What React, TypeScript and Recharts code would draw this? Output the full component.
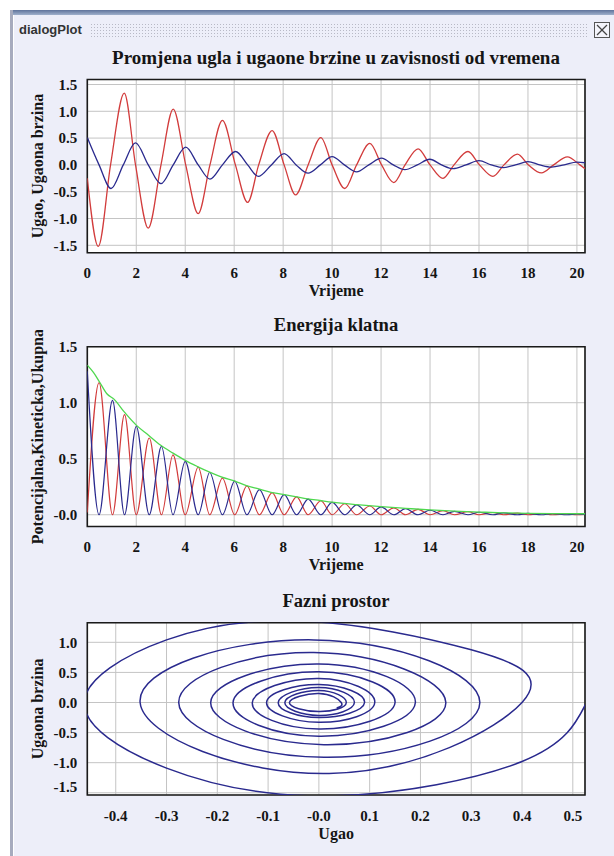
import React from 'react';
import { LineChart, Line, XAxis, YAxis, CartesianGrid, ReferenceArea } from 'recharts';

// ---------- data ----------
// Top chart: angle (blue) and angular velocity (red) vs time
const angleTimes = [0, 0.48, 0.97, 1.47, 1.97, 2.49, 3.01, 3.51, 4.02, 4.53, 5.01, 5.52, 6.06, 6.55, 6.98, 7.52, 8.04, 8.53, 9.02, 9.52, 10.0, 10.5, 11.0, 11.5, 12.02, 12.5, 12.97, 13.48, 13.99, 14.47, 14.94, 15.47, 16.0, 16.5, 16.98, 17.49, 18.0, 18.48, 18.96, 19.48, 20.0, 20.33];
const angleValues = [0.51, 0, -0.44, 0, 0.41, 0, -0.35, 0, 0.33, 0, -0.265, 0, 0.25, 0, -0.215, 0, 0.21, 0, -0.155, 0, 0.155, 0, -0.13, 0, 0.125, 0, -0.09, 0, 0.105, 0, -0.07, 0, 0.08, 0, -0.05, 0, 0.06, 0, -0.04, 0, 0.05, 0.04];

const velocityTimes = [0, 0.45, 0.95, 1.51, 1.97, 2.49, 3.01, 3.51, 4.02, 4.53, 5.01, 5.52, 6.05, 6.55, 7.0, 7.55, 8.04, 8.51, 9.02, 9.54, 10.0, 10.52, 11.0, 11.54, 12.02, 12.52, 12.98, 13.51, 14.0, 14.53, 14.98, 15.55, 16.02, 16.57, 17.02, 17.57, 18.02, 18.55, 19.05, 19.61, 20.12, 20.33];
const velocityValues = [-0.25, -1.52, 0, 1.34, 0, -1.18, 0, 1.04, 0, -0.91, 0, 0.83, 0, -0.7, 0, 0.64, 0, -0.56, 0, 0.51, 0, -0.44, 0, 0.4, 0, -0.33, 0, 0.3, 0, -0.25, 0, 0.25, 0, -0.215, 0, 0.2, 0, -0.15, 0, 0.15, 0, -0.07];

// Middle chart: potential (blue), kinetic (red), total (green) energy
const energyTimes = [0, 0.48, 1.03, 1.52, 2.0, 2.53, 3.03, 3.5, 4.0, 4.53, 5.0, 5.52, 6.02, 6.52, 7.03, 7.55, 8.04, 8.55, 9.02, 9.54, 10.0, 10.52, 11.0, 11.54, 12.0, 12.52, 13.0, 13.51, 14.0, 14.53, 15.0, 15.55, 16.0, 16.57, 17.0, 17.57, 18.0, 18.55, 19.0, 19.6, 20.0, 20.33];
const potentialValues = [1.28, 0, 1.02, 0, 0.79, 0, 0.61, 0, 0.476, 0, 0.377, 0, 0.3, 0, 0.225, 0, 0.18, 0, 0.14, 0, 0.11, 0, 0.088, 0, 0.07, 0, 0.055, 0, 0.04, 0, 0.03, 0, 0.022, 0, 0.016, 0, 0.012, 0, 0.009, 0, 0.008, 0.003];
const kineticValues = [0.02, 1.18, 0, 0.894, 0, 0.685, 0, 0.535, 0, 0.425, 0, 0.326, 0, 0.257, 0, 0.197, 0, 0.16, 0, 0.125, 0, 0.098, 0, 0.078, 0, 0.062, 0, 0.048, 0, 0.036, 0, 0.027, 0, 0.02, 0, 0.014, 0, 0.011, 0, 0.008, 0, 0.003];

const totalTimes = [0, 0.25, 0.5, 0.8, 1.1, 1.5, 2.0, 2.5, 3.0, 3.5, 4.0, 4.5, 5.0, 5.5, 6.0, 6.5, 7.0, 7.5, 8.0, 8.5, 9.0, 9.5, 10, 11, 12, 13, 14, 15, 16, 17, 18, 19, 20.33];
const totalValues = [1.335, 1.27, 1.185, 1.08, 1.03, 0.92, 0.8, 0.71, 0.62, 0.55, 0.485, 0.43, 0.38, 0.335, 0.302, 0.26, 0.23, 0.2, 0.182, 0.162, 0.142, 0.127, 0.112, 0.09, 0.072, 0.057, 0.043, 0.032, 0.024, 0.017, 0.012, 0.01, 0.009];

// Bottom chart: phase space (angle, angular velocity)
const phaseAngle = [0.527, 0.4, 0.03, -0.3, -0.462, -0.3, -0.02, 0.3, 0.4, 0.02, -0.352, -0.01, 0.317, 0.01, -0.276, -0.01, 0.25, 0.01, -0.213, 0, 0.19, 0, -0.169, 0, 0.15, 0, -0.131, 0, 0.11, 0, -0.103, 0, 0.09, 0, -0.08, 0, 0.07, 0, -0.067, 0, 0.054, 0, -0.058, 0, 0.044, 0.035];
const phaseVelocity = [0, -0.98, -1.55, -1.09, 0, 1.04, 1.35, 0.875, 0, -1.18, 0, 1.04, 0, -0.91, 0, 0.83, 0, -0.7, 0, 0.64, 0, -0.56, 0, 0.51, 0, -0.44, 0, 0.4, 0, -0.33, 0, 0.3, 0, -0.25, 0, 0.25, 0, -0.215, 0, 0.2, 0, -0.15, 0, 0.15, 0, -0.09];

// Ticks
const timeTicks = [0, 2, 4, 6, 8, 10, 12, 14, 16, 18, 20];
const timeTickLabels = ['0', '2', '4', '6', '8', '10', '12', '14', '16', '18', '20'];
const topYTicks = [-1.5, -1.0, -0.5, 0, 0.5, 1.0, 1.5];
const topYTickLabels = ['-1.5', '-1.0', '-0.5', '0.0', '0.5', '1.0', '1.5'];
const energyYTicks = [0, 0.5, 1.0, 1.5];
const energyYTickLabels = ['-0.0', '0.5', '1.0', '1.5'];
const phaseXTicks = [-0.4, -0.3, -0.2, -0.1, 0, 0.1, 0.2, 0.3, 0.4, 0.5];
const phaseXTickLabels = ['-0.4', '-0.3', '-0.2', '-0.1', '-0.0', '0.1', '0.2', '0.3', '0.4', '0.5'];
const phaseYTicks = [-1.5, -1.0, -0.5, 0, 0.5, 1.0];
const phaseYTickLabels = ['-1.5', '-1.0', '-0.5', '0.0', '0.5', '1.0'];

const zipT = (ts: number[], vs: number[]) => ts.map((t, i) => ({ t, v: vs[i] }));
const angleData = zipT(angleTimes, angleValues);
const velocityData = zipT(velocityTimes, velocityValues);
const potentialData = zipT(energyTimes, potentialValues);
const kineticData = zipT(energyTimes, kineticValues);
const totalData = zipT(totalTimes, totalValues);
const phaseData = phaseAngle.map((x, i) => ({ x, y: phaseVelocity[i] }));

// ---------- styling ----------
const SERIF = '"Liberation Serif", "Times New Roman", Times, serif';
const SANS = '"Liberation Sans", Arial, sans-serif';
const INK = '#151515';
const labelStyle = { fontFamily: SERIF, fontSize: 16, fontWeight: 700, fill: INK };
const BLUE = '#2a2a8e';
const RED = '#d23c3c';
const GREEN = '#4fd84f';

const fmt = (ticks: number[], labels: string[]) => (v: number) => {
  const i = ticks.indexOf(v);
  return i >= 0 ? labels[i] : String(v);
};

const makeXTick = (ticks: number[], labels: string[]) => (props: any) => (
  <text
    x={props.x}
    y={props.y}
    dy="0.71em"
    textAnchor="middle"
    style={{ fontFamily: SERIF, fontSize: 15, fontWeight: 700, fill: INK }}
  >
    {fmt(ticks, labels)(props.payload.value)}
  </text>
);

const makeYTick = (ticks: number[], labels: string[], shiftValue?: number, shift?: number) => (props: any) => {
  const v = props.payload.value;
  const dy = shiftValue !== undefined && v === shiftValue ? shift || 0 : 0;
  return (
    <text
      x={props.x}
      y={props.y + dy}
      dy="0.355em"
      textAnchor="end"
      style={{ fontFamily: SERIF, fontSize: 15, fontWeight: 700, fill: INK }}
    >
      {fmt(ticks, labels)(v)}
    </text>
  );
};

type PanelProps = {
  top: number;
  height: number;
  marginTop: number;
  marginBottom: number;
  xKey: string;
  xDomain: [number, number];
  yDomain: [number, number];
  xTicks: number[];
  xTickLabels: string[];
  yTicks: number[];
  yTickLabels: string[];
  xLabel: string;
  yLabel: string;
  yTick: any;
  children: React.ReactNode;
};

function Panel(p: PanelProps) {
  return (
    <div style={{ position: 'absolute', left: 0, top: p.top }}>
      <LineChart
        width={614}
        height={p.height}
        margin={{ top: p.marginTop, right: 29, bottom: p.marginBottom, left: 0 }}
      >
        <CartesianGrid stroke="#c4c4c4" strokeWidth={1} fill="#ffffff" fillOpacity={1} />
        <XAxis
          type="number"
          dataKey={p.xKey}
          domain={p.xDomain}
          ticks={p.xTicks}
          interval={0}
          allowDataOverflow
          axisLine={false}
          tickLine={false}
          tickSize={6}
          tickMargin={9}
          height={50}
          tick={makeXTick(p.xTicks, p.xTickLabels)}
          label={{ value: p.xLabel, position: 'insideBottom', offset: 6.5, style: labelStyle }}
        />
        <YAxis
          type="number"
          domain={p.yDomain}
          ticks={p.yTicks}
          interval={0}
          allowDataOverflow
          axisLine={false}
          tickLine={false}
          tickSize={6}
          tickMargin={4}
          width={87.3}
          tick={p.yTick}
          label={{
            value: p.yLabel,
            angle: -90,
            position: 'insideLeft',
            offset: 37,
            style: { ...labelStyle, textAnchor: 'middle' },
          }}
        />
        {p.children}
        <ReferenceArea
          x1={p.xDomain[0]}
          x2={p.xDomain[1]}
          y1={p.yDomain[0]}
          y2={p.yDomain[1]}
          fill="none"
          stroke="#1a1a1a"
          strokeWidth={1.6}
          ifOverflow="visible"
        />
      </LineChart>
    </div>
  );
}

export default function App() {
  return (
    <div style={{ position: 'absolute', left: 0, top: 0, width: 614, height: 856, background: '#ffffff', overflow: 'hidden' }}>
      {/* window frame */}
      <div style={{ position: 'absolute', left: 10, top: 10, width: 604, height: 846, background: '#edeef9' }} />
      <div style={{ position: 'absolute', left: 10, top: 10, width: 604, height: 5, background: 'linear-gradient(#5f739b, #9fb0cc)' }} />
      <div style={{ position: 'absolute', left: 10, top: 10, width: 3, height: 846, background: '#a7abbe' }} />
      <div style={{ position: 'absolute', left: 13, top: 15, width: 1, height: 841, background: '#ffffff' }} />
      <div
        style={{
          position: 'absolute', left: 19, top: 22, fontFamily: SANS, fontWeight: 700, fontSize: 13,
          color: '#333333', lineHeight: '16px',
        }}
      >
        dialogPlot
      </div>
      <div
        style={{
          position: 'absolute', left: 90, top: 23, width: 498, height: 15,
          backgroundImage: 'radial-gradient(#b8b9c6 0.7px, transparent 0.9px)', backgroundSize: '3px 3px',
        }}
      />
      <svg style={{ position: 'absolute', left: 594, top: 22 }} width={16} height={16}>
        <rect x={0.5} y={0.5} width={15} height={15} fill="#f4f4fb" stroke="#555" />
        <line x1={3} y1={3} x2={13} y2={13} stroke="#444" strokeWidth={1.3} />
        <line x1={13} y1={3} x2={3} y2={13} stroke="#444" strokeWidth={1.3} />
      </svg>

      {/* chart titles */}
      <svg style={{ position: 'absolute', left: 0, top: 0, pointerEvents: 'none' }} width={614} height={856}>
        <text x={336} y={63.8} textAnchor="middle" fontFamily={SERIF} fontSize={19} fontWeight={700} fill={INK}>
          Promjena ugla i ugaone brzine u zavisnosti od vremena
        </text>
        <text x={336} y={331} textAnchor="middle" fontFamily={SERIF} fontSize={18.6} fontWeight={700} fill={INK}>
          Energija klatna
        </text>
        <text x={336} y={607} textAnchor="middle" fontFamily={SERIF} fontSize={18.5} fontWeight={700} fill={INK}>
          Fazni prostor
        </text>
      </svg>

      <Panel
        top={70}
        height={233}
        marginTop={9.5}
        marginBottom={0.3}
        xKey="t"
        xDomain={[0, 20.33]}
        yDomain={[-1.638, 1.593]}
        xTicks={timeTicks}
        xTickLabels={timeTickLabels}
        yTicks={topYTicks}
        yTickLabels={topYTickLabels}
        xLabel="Vrijeme"
        yLabel="Ugao, Ugaona brzina"
        yTick={makeYTick(topYTicks, topYTickLabels)}
      >
        <Line data={velocityData} dataKey="v" type="monotone" stroke={RED} strokeWidth={1.3} dot={false} activeDot={false} isAnimationActive={false} />
        <Line data={angleData} dataKey="v" type="monotone" stroke={BLUE} strokeWidth={1.3} dot={false} activeDot={false} isAnimationActive={false} />
      </Panel>

      <Panel
        top={330}
        height={247}
        marginTop={16.7}
        marginBottom={0.5}
        xKey="t"
        xDomain={[0, 20.33]}
        yDomain={[-0.105, 1.5]}
        xTicks={timeTicks}
        xTickLabels={timeTickLabels}
        yTicks={energyYTicks}
        yTickLabels={energyYTickLabels}
        xLabel="Vrijeme"
        yLabel="Potencijalna,Kineticka,Ukupna"
        yTick={makeYTick(energyYTicks, energyYTickLabels)}
      >
        <Line data={kineticData} dataKey="v" type="monotone" stroke={RED} strokeWidth={1.2} dot={false} activeDot={false} isAnimationActive={false} />
        <Line data={potentialData} dataKey="v" type="monotone" stroke={BLUE} strokeWidth={1.2} dot={false} activeDot={false} isAnimationActive={false} />
        <Line data={totalData} dataKey="v" type="monotone" stroke={GREEN} strokeWidth={1.3} dot={false} activeDot={false} isAnimationActive={false} />
      </Panel>

      <Panel
        top={600}
        height={245}
        marginTop={22.7}
        marginBottom={0}
        xKey="x"
        xDomain={[-0.456, 0.524]}
        yDomain={[-1.537, 1.326]}
        xTicks={phaseXTicks}
        xTickLabels={phaseXTickLabels}
        yTicks={phaseYTicks}
        yTickLabels={phaseYTickLabels}
        xLabel="Ugao"
        yLabel="Ugaona brzina"
        yTick={makeYTick(phaseYTicks, phaseYTickLabels, -1.5, -6)}
      >
        <Line data={phaseData} dataKey="y" type="natural" stroke={BLUE} strokeWidth={1.5} dot={false} activeDot={false} isAnimationActive={false} />
      </Panel>
    </div>
  );
}
